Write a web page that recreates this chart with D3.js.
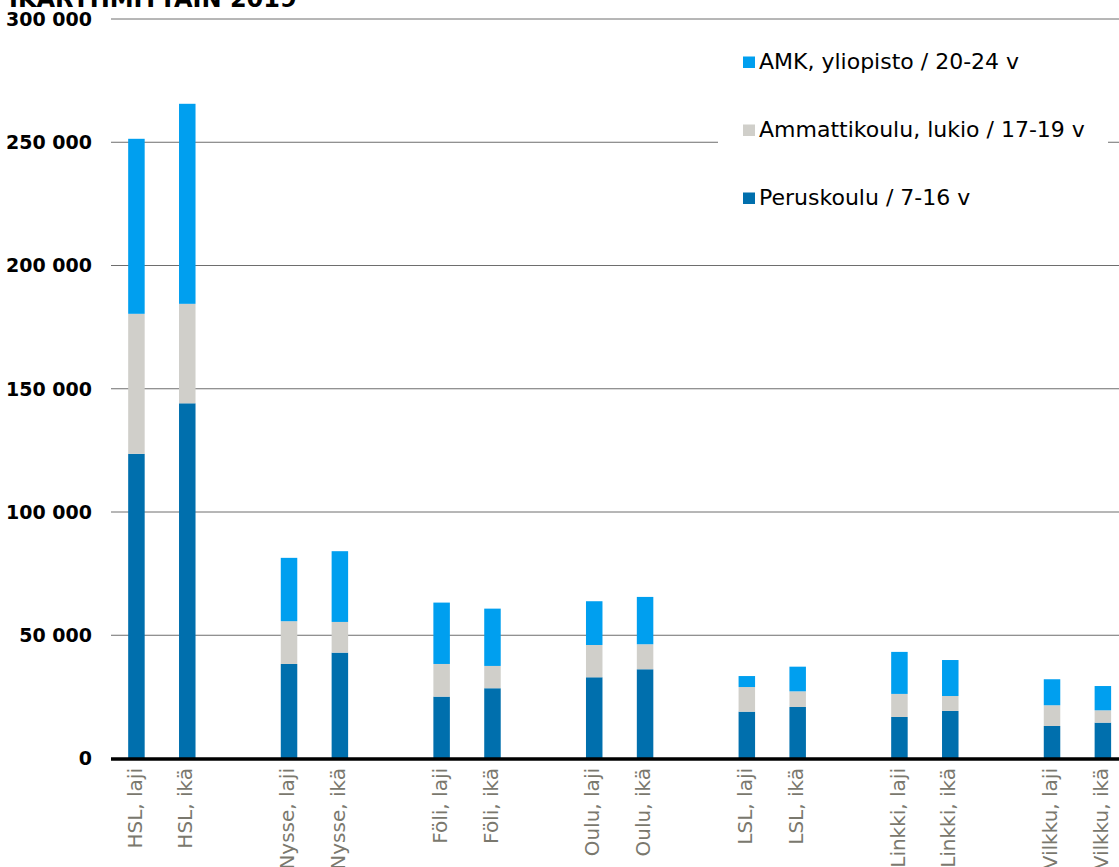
<!DOCTYPE html>
<html>
<head>
<meta charset="utf-8">
<script src="https://cdn.jsdelivr.net/npm/d3@7"></script>
<style>
  html, body { margin: 0; padding: 0; background: #fff; overflow: hidden; }
  text { font-family: "DejaVu Sans", Verdana, sans-serif; }
</style>
</head>
<body>
<div id="chart"></div>
<script>
// Data
const groups = ["HSL", "Nysse", "Föli", "Oulu", "LSL", "Linkki", "Vilkku"];
const kinds = ["laji", "ikä"];
const seriesNames = ["Peruskoulu / 7-16 v", "Ammattikoulu, lukio / 17-19 v", "AMK, yliopisto / 20-24 v"];
const peruskoulu = [123600, 144100, 38350, 42950, 25100, 28500, 32950, 36200, 19000, 20900, 16850, 19300, 13200, 14550];
const ammattikoulu = [56800, 40350, 17350, 12450, 13250, 9050, 13100, 10150, 10000, 6350, 9350, 6050, 8400, 5000];
const amk = [71000, 81150, 25700, 28700, 24900, 23250, 17750, 19200, 4450, 10000, 17050, 14600, 10550, 9850];
const yTicks = [0, 50000, 100000, 150000, 200000, 250000, 300000];

const W = 1119, H = 867;
const colors = ["#006fad", "#d0cfca", "#009fef"];

// rows for the stack
const rows = [];
groups.forEach((g, gi) => kinds.forEach((k, ki) => {
  const i = gi * 2 + ki;
  rows.push({ group: g, kind: k, label: g + ", " + k,
    s0: peruskoulu[i], s1: ammattikoulu[i], s2: amk[i] });
}));

const svg = d3.select("#chart").append("svg")
  .attr("width", W)
  .attr("height", H);

const y = d3.scaleLinear().domain([0, 300000]).range([758.5, 19]);
// each group has 3 slots (laji, ikä, empty); the chart runs past the right edge
const xGroup = d3.scaleBand().domain(groups).range([111, 111 + 7 * 152.6]);
const xKind = d3.scaleBand().domain(kinds).range([0, 101.7]);
const barW = 16.5;
const cx = d => xGroup(d.group) + xKind(d.kind) + xKind.bandwidth() / 2;

const fmt = d3.formatLocale({ decimal: ",", thousands: " ", grouping: [3], currency: ["", ""] }).format(",");

// title (cut by the top edge)
svg.append("text")
  .attr("x", 9)
  .attr("y", 7)
  .attr("font-size", "24px")
  .attr("font-weight", "bold")
  .text("IKÄRYHMITTÄIN 2019");

// gridlines
svg.selectAll(".grid")
  .data(yTicks.filter(d => d > 0))
  .enter().append("line")
  .attr("class", "grid")
  .attr("x1", 111)
  .attr("x2", W)
  .attr("y1", d => y(d))
  .attr("y2", d => y(d))
  .attr("stroke", "#6e6e6e")
  .attr("stroke-width", 1);

// y labels
svg.selectAll(".ylab")
  .data(yTicks)
  .enter().append("text")
  .attr("class", "ylab")
  .attr("x", 92)
  .attr("y", d => y(d))
  .attr("dy", "0.36em")
  .attr("text-anchor", "end")
  .attr("font-size", "19px")
  .attr("font-weight", "bold")
  .attr("fill", "#000")
  .text(d => fmt(d));

// stacked bars
const stack = d3.stack().keys(["s0", "s1", "s2"]);
const layers = stack(rows);
svg.selectAll(".layer")
  .data(layers)
  .enter().append("g")
  .attr("class", "layer")
  .attr("fill", (d, i) => colors[i])
  .selectAll("rect")
  .data(d => d)
  .enter().append("rect")
  .attr("x", d => cx(d.data) - barW / 2)
  .attr("width", barW)
  .attr("y", d => y(d[1]))
  .attr("height", d => y(d[0]) - y(d[1]));

// zero line
svg.append("line")
  .attr("x1", 111)
  .attr("x2", W)
  .attr("y1", y(0) + 0.5)
  .attr("y2", y(0) + 0.5)
  .attr("stroke", "#000")
  .attr("stroke-width", 3.5);

// x labels, rotated
svg.selectAll(".xlab")
  .data(rows)
  .enter().append("text")
  .attr("class", "xlab")
  .attr("transform", d => "translate(" + (cx(d) - 2) + ",768) rotate(-90)")
  .attr("dy", "0.36em")
  .attr("text-anchor", "end")
  .attr("font-size", "20px")
  .attr("fill", "#7a786e")
  .text(d => d.label);

// legend with white box over the gridline
const legend = svg.append("g");
legend.append("rect")
  .attr("x", 718)
  .attr("y", 30)
  .attr("width", 390)
  .attr("height", 200)
  .attr("fill", "#fff");
const legendOrder = [2, 1, 0];
legendOrder.forEach((si, i) => {
  const ly = 62 + i * 68;
  legend.append("rect")
    .attr("x", 743)
    .attr("y", ly - 5.5)
    .attr("width", 12)
    .attr("height", 11.5)
    .attr("fill", colors[si]);
  legend.append("text")
    .attr("x", 759)
    .attr("y", ly + 7)
    .attr("font-size", "22px")
    .attr("fill", "#000")
    .text(seriesNames[si]);
});
</script>
</body>
</html>
